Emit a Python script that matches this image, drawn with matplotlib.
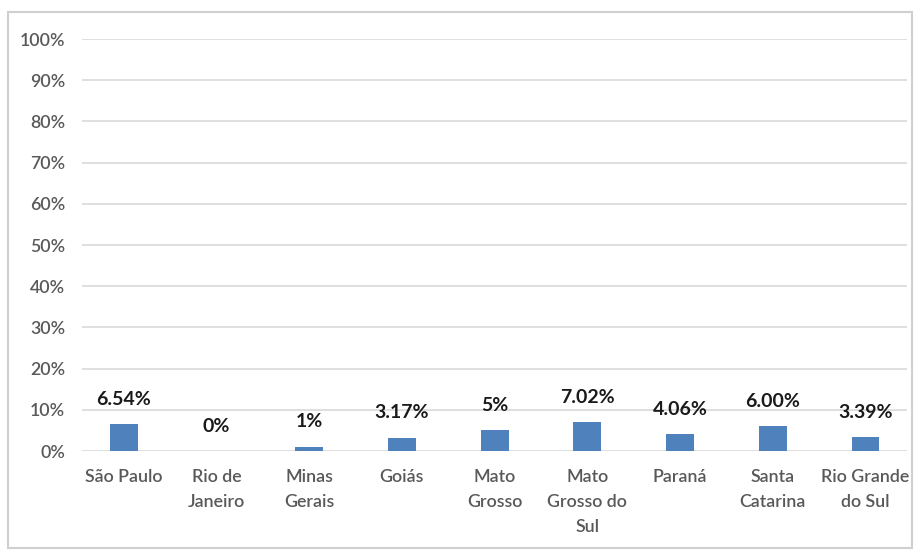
import numpy as np
import matplotlib.pyplot as plt
from matplotlib.patches import Rectangle

estados = ["São Paulo", "Rio de\nJaneiro", "Minas\nGerais", "Goiás", "Mato\nGrosso",
           "Mato\nGrosso do\nSul", "Paraná", "Santa\nCatarina", "Rio Grande\ndo Sul"]
valores = [6.54, 0.0, 1.0, 3.17, 5.0, 7.02, 4.06, 6.00, 3.39]
rotulos = ["6.54%", "0%", "1%", "3.17%", "5%", "7.02%", "4.06%", "6.00%", "3.39%"]
yticks = np.arange(0, 101, 10)

plt.rcParams['font.family'] = ['Lato', 'DejaVu Sans']

fig = plt.figure(figsize=(9.15, 5.5), dpi=100)
fig.patches.append(Rectangle((0.009, 0.004), 0.988, 0.974, transform=fig.transFigure,
                             fill=False, edgecolor="#d0d0d0", linewidth=1.5))
ax = fig.add_axes([0.0896, 0.18, 0.902, 0.749])

x = np.arange(len(estados))
ax.bar(x, valores, width=0.3, color="#4f81bd", zorder=3)

for xi, v, txt in zip(x, valores, rotulos):
    ax.annotate(txt, (xi, v), xytext=(0, 18), textcoords="offset points",
                ha="center", va="center", fontsize=14, fontweight="bold", color="#1a1a1a")

ax.set_ylim(0, 100)
ax.set_xlim(-0.45, len(estados) - 0.55)
ax.set_yticks(yticks)
ax.set_yticklabels([f"{t}%" for t in yticks])
ax.set_xticks(x)
ax.set_xticklabels(estados, linespacing=1.7)
ax.tick_params(axis="both", length=0, labelsize=12.8, labelcolor="#595959")
ax.tick_params(axis="y", pad=12)
ax.tick_params(axis="x", pad=13)
for lbl in ax.get_xticklabels() + ax.get_yticklabels():
    lbl.set_fontweight("semibold")
ax.yaxis.grid(True, color="#d9d9d9", linewidth=1.2, zorder=0)
for s in ax.spines.values():
    s.set_visible(False)

fig.savefig("out.png", dpi=100)
